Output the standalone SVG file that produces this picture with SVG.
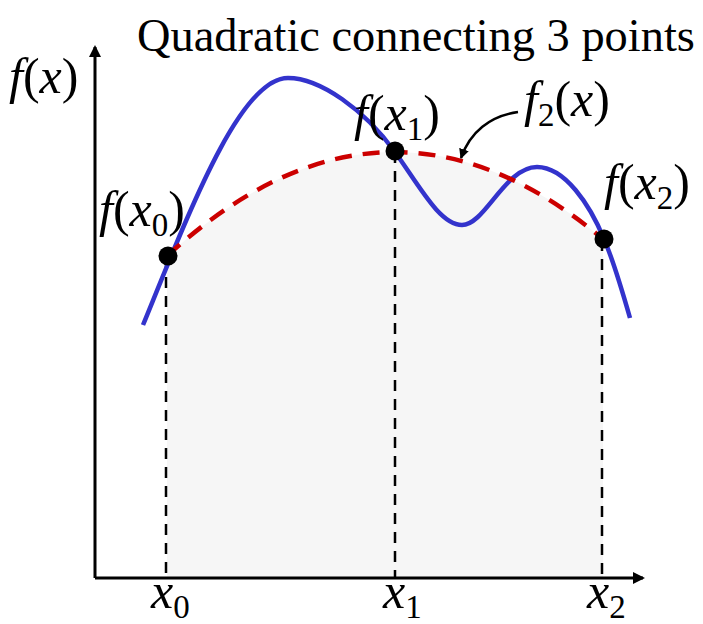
<svg xmlns="http://www.w3.org/2000/svg" width="703" height="624" viewBox="0 0 703 624">
<style>
text{fill:#000;font-size:50px}
.i{font-style:italic}
.sub{font-size:33px}
.vdash{stroke:#000;stroke-width:2.5;stroke-dasharray:11 8;fill:none}
.axis{stroke:#000;stroke-width:3;fill:none}
.dot{fill:#000}
</style>
<defs>
<marker id="ah" markerWidth="10" markerHeight="10" refX="9" refY="5" orient="auto" markerUnits="userSpaceOnUse" viewBox="0 0 10 10">
<path d="M0,0 L10,5 L0,10 Z" fill="#000"/>
</marker>
<marker id="ah2" markerWidth="12" markerHeight="12" refX="10" refY="6" orient="auto" markerUnits="userSpaceOnUse" viewBox="0 0 12 12">
<path d="M0,0 L12,6 L0,12 Z" fill="#000"/>
</marker>
</defs>
<rect width="703" height="624" fill="#fff"/>
<g id="area"><path d="M167,578 L167,256 Q385,57 603,239 L603,578 Z" fill="#f6f6f6"/></g>
<g id="connectors">
<path class="axis" d="M95,578 L95,47" marker-end="url(#ah2)"/>
<path class="axis" d="M95,578 L643,578" marker-end="url(#ah2)"/>
<path class="vdash" d="M166,258 L166,578"/>
<path class="vdash" d="M395,152 L395,578"/>
<path class="vdash" d="M602,240 L602,578"/>
<path d="M143,325 C190,210 240,78 288,78 C320,78 365,110 395,152 C420,187 440,225 462,225 C485,225 505,167 537,167 C565,167 590,205 604,239 C614,262 622,290 630,318" fill="none" stroke="#3333cc" stroke-width="4.5"/>
<path d="M167,256 Q385,57 603,239" fill="none" stroke="#cc0000" stroke-width="4.5" stroke-dasharray="17 11"/>
<path d="M518,112 C490,116 470,132 461,158" fill="none" stroke="#000" stroke-width="2.5" marker-end="url(#ah)"/>
</g>
<g id="p0"><circle class="dot" cx="168" cy="256" r="9.5"/></g>
<g id="p1"><circle class="dot" cx="395" cy="151" r="9.5"/></g>
<g id="p2"><circle class="dot" cx="604" cy="239" r="9.5"/></g>
<g id="title"><text x="137" y="51" font-family="Liberation Serif, serif" style="font-size:46.4px">Quadratic connecting 3 points</text></g>
<g id="labels" font-family="Liberation Serif, serif">
<text x="9" y="93" font-family="Liberation Serif, serif"><tspan class="i">f</tspan>(<tspan class="i">x</tspan>)</text>
<text x="99" y="226" font-family="Liberation Serif, serif"><tspan class="i">f</tspan>(<tspan class="i">x</tspan><tspan class="sub" dy="10">0</tspan><tspan dy="-10">)</tspan></text>
<text x="354" y="130" font-family="Liberation Serif, serif"><tspan class="i">f</tspan>(<tspan class="i">x</tspan><tspan class="sub" dy="10">1</tspan><tspan dy="-10">)</tspan></text>
<text x="524" y="116" font-family="Liberation Serif, serif"><tspan class="i">f</tspan><tspan class="sub" dy="10">2</tspan><tspan dy="-10">(</tspan><tspan class="i">x</tspan>)</text>
<text x="604" y="199" font-family="Liberation Serif, serif"><tspan class="i">f</tspan>(<tspan class="i">x</tspan><tspan class="sub" dy="10">2</tspan><tspan dy="-10">)</tspan></text>
<text x="151" y="608" font-family="Liberation Serif, serif"><tspan class="i">x</tspan><tspan class="sub" dy="10">0</tspan></text>
<text x="383" y="608" font-family="Liberation Serif, serif"><tspan class="i">x</tspan><tspan class="sub" dy="10">1</tspan></text>
<text x="587" y="608" font-family="Liberation Serif, serif"><tspan class="i">x</tspan><tspan class="sub" dy="10">2</tspan></text>
</g>
</svg>
